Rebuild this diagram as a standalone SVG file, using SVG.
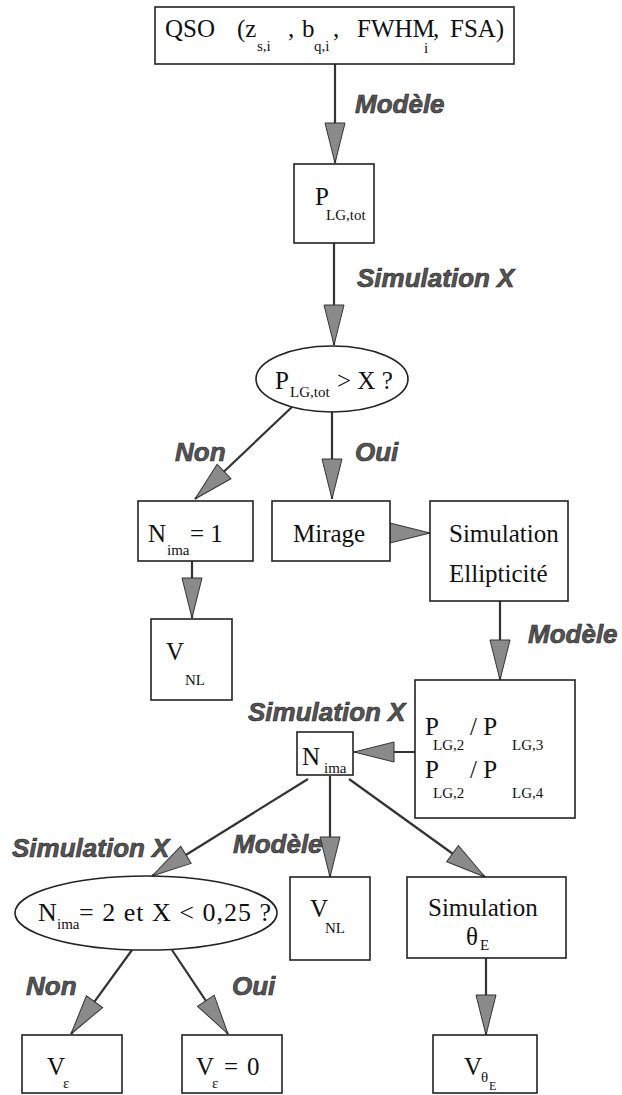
<svg xmlns="http://www.w3.org/2000/svg" width="622" height="1095" viewBox="0 0 622 1095">
<style>
.box{fill:#fff;stroke:#222;stroke-width:1.6}
.t{font-family:"Liberation Serif","Times New Roman",serif;font-size:25px;fill:#111}
.s{font-size:15px}
.ss{font-size:12px}
.lbl{font-family:"Liberation Sans",Arial,sans-serif;font-weight:bold;font-style:italic;font-size:26px;fill:#555;stroke:#222;stroke-width:0.6}
.ln{stroke:#333;stroke-width:2.2;fill:none;marker-end:url(#ah)}
</style>
<defs>
<marker id="ah" markerUnits="userSpaceOnUse" markerWidth="42" markerHeight="22" refX="40" refY="10" orient="auto" viewBox="-1 -1 42 22">
<path d="M0,0 L40,10 L0,20 Z" fill="#8a8a8a" stroke="#333" stroke-width="1"/>
</marker>
</defs>
<rect width="622" height="1095" fill="#fff"/>

<g id="connectors">
<line class="ln" x1="335" y1="64" x2="335" y2="163"/>
<line class="ln" x1="334" y1="243" x2="334" y2="345"/>
<line class="ln" x1="292" y1="407" x2="195" y2="499"/>
<line class="ln" x1="332" y1="412" x2="332" y2="499"/>
<line class="ln" x1="390" y1="533" x2="430" y2="533"/>
<line class="ln" x1="192" y1="561" x2="192" y2="618"/>
<line class="ln" x1="500" y1="601" x2="500" y2="680"/>
<line class="ln" x1="415" y1="752" x2="354" y2="752"/>
<line class="ln" x1="308" y1="779" x2="152" y2="876"/>
<line class="ln" x1="330" y1="776" x2="330" y2="877"/>
<line class="ln" x1="349" y1="779" x2="485" y2="877"/>
<line class="ln" x1="132" y1="950" x2="71" y2="1034"/>
<line class="ln" x1="172" y1="950" x2="228" y2="1034"/>
<line class="ln" x1="486" y1="958" x2="486" y2="1035"/>
</g>

<g id="labels">
<text class="lbl" x="355" y="113">Modèle</text>
<text class="lbl" x="357" y="287">Simulation X</text>
<text class="lbl" x="175" y="461">Non</text>
<text class="lbl" x="355" y="461">Oui</text>
<text class="lbl" x="528" y="643">Modèle</text>
<text class="lbl" x="248" y="721">Simulation X</text>
<text class="lbl" x="12" y="857">Simulation X</text>
<text class="lbl" x="233" y="853">Modèle</text>
<text class="lbl" x="26" y="995">Non</text>
<text class="lbl" x="232" y="995">Oui</text>
</g>

<g id="qso">
<rect class="box" x="155" y="7" width="359" height="57"/>
<text class="t"><tspan x="165" y="37">QSO</tspan><tspan x="237" y="37">(z</tspan><tspan class="s" x="257" y="51">s,i</tspan><tspan x="288" y="37">,</tspan><tspan x="302" y="37">b</tspan><tspan class="s" x="314" y="51">q,i</tspan><tspan x="333" y="37">,</tspan><tspan x="357" y="37">FWHM</tspan><tspan class="s" x="424" y="53">i</tspan><tspan x="433" y="37">,</tspan><tspan x="450" y="37">FSA)</tspan></text>
</g>

<g id="plgtot">
<rect class="box" x="294" y="164" width="80" height="79"/>
<text class="t"><tspan x="315" y="205">P</tspan><tspan class="s" x="326" y="220">LG,tot</tspan></text>
</g>

<g id="test1">
<ellipse class="box" cx="332" cy="379" rx="76" ry="33"/>
<text class="t"><tspan x="275" y="389">P</tspan><tspan class="s" x="290" y="397">LG,tot</tspan><tspan x="337" y="389">&gt; X ?</tspan></text>
</g>

<g id="nima1">
<rect class="box" x="138" y="501" width="115" height="60"/>
<text class="t"><tspan x="148" y="542">N</tspan><tspan class="s" x="167" y="555">ima</tspan><tspan x="190" y="542">= 1</tspan></text>
</g>

<g id="mirage">
<rect class="box" x="272" y="501" width="118" height="60"/>
<text class="t" x="293" y="542">Mirage</text>
</g>

<g id="simell">
<rect class="box" x="430" y="501" width="138" height="100"/>
<text class="t"><tspan x="449" y="542">Simulation</tspan><tspan x="449" y="582">Ellipticité</tspan></text>
</g>

<g id="vnl1">
<rect class="box" x="151" y="619" width="81" height="81"/>
<text class="t"><tspan x="166" y="660">V</tspan><tspan class="s" x="185" y="685">NL</tspan></text>
</g>

<g id="pratio">
<rect class="box" x="415" y="680" width="160" height="138"/>
<text class="t"><tspan x="425" y="735">P</tspan><tspan x="470" y="735">/ P</tspan><tspan class="s" x="433" y="750">LG,2</tspan><tspan class="s" x="512" y="750">LG,3</tspan><tspan x="425" y="778">P</tspan><tspan x="470" y="778">/ P</tspan><tspan class="s" x="433" y="798">LG,2</tspan><tspan class="s" x="512" y="798">LG,4</tspan></text>
</g>

<g id="nima">
<rect class="box" x="297" y="732" width="56" height="43"/>
<text class="t"><tspan x="302" y="765">N</tspan><tspan class="s" x="324" y="773">ima</tspan></text>
</g>

<g id="test2">
<ellipse class="box" cx="146" cy="913" rx="131" ry="37"/>
<text class="t" style="font-size:26px"><tspan x="38" y="921">N</tspan><tspan class="s" x="57" y="929">ima</tspan><tspan x="79" y="921" textLength="192" lengthAdjust="spacing">= 2 et X &lt; 0,25 ?</tspan></text>
</g>

<g id="vnl2">
<rect class="box" x="290" y="877" width="80" height="83"/>
<text class="t"><tspan x="310" y="917">V</tspan><tspan class="s" x="325" y="933">NL</tspan></text>
</g>

<g id="simtheta">
<rect class="box" x="407" y="877" width="159" height="81"/>
<text class="t"><tspan x="428" y="916">Simulation</tspan><tspan x="466" y="945">θ</tspan><tspan class="s" x="480" y="950">E</tspan></text>
</g>

<g id="veps">
<rect class="box" x="22" y="1035" width="100" height="58"/>
<text class="t"><tspan x="47" y="1075">V</tspan><tspan class="s" x="63" y="1088">ε</tspan></text>
</g>

<g id="veps0">
<rect class="box" x="182" y="1035" width="100" height="58"/>
<text class="t"><tspan x="196" y="1075">V</tspan><tspan class="s" x="212" y="1088">ε</tspan><tspan x="224" y="1075">=</tspan><tspan x="247" y="1075">0</tspan></text>
</g>

<g id="vtheta">
<rect class="box" x="433" y="1035" width="104" height="58"/>
<text class="t"><tspan x="464" y="1075">V</tspan><tspan class="s" x="481" y="1082">θ</tspan><tspan class="ss" x="489" y="1090">E</tspan></text>
</g>
</svg>
